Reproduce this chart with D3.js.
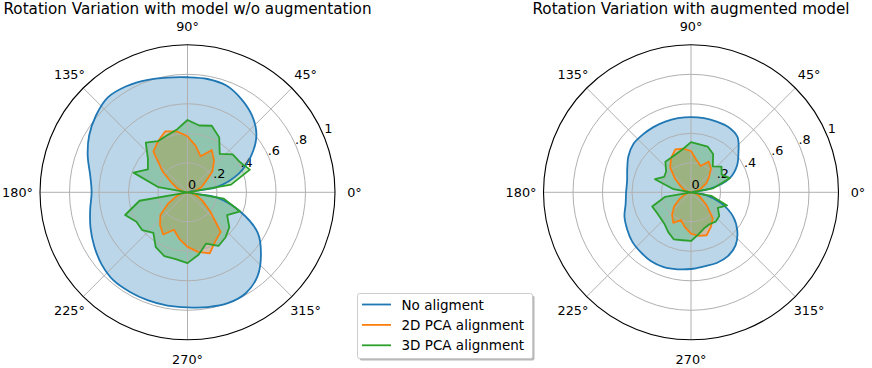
<!DOCTYPE html>
<html>
<head>
<meta charset="utf-8">
<script src="https://cdn.jsdelivr.net/npm/d3@7"></script>
<style>
	body { margin: 0; background: #fff; }
	svg { font-family: "DejaVu Sans", sans-serif; }
</style>
</head>
<body>
<svg id="svg_main" width="872" height="368"></svg>
<script>
// angles in degrees, matplotlib style (0 = east, counter clockwise)
var angles = d3.range(0, 360, 10);

var leftNoAlign = [0.00, 0.20, 0.37, 0.50, 0.61, 0.68, 0.73, 0.77, 0.78, 0.78, 0.79, 0.81, 0.83, 0.84, 0.81, 0.77, 0.72, 0.67,
	0.65, 0.67, 0.70, 0.73, 0.76, 0.78, 0.78, 0.78, 0.78, 0.78, 0.79, 0.80, 0.79, 0.74, 0.65, 0.55, 0.38, 0.20];
var leftPca2d = [0.00, 0.05, 0.10, 0.14, 0.22, 0.28, 0.33, 0.26, 0.32, 0.38, 0.42, 0.44, 0.40, 0.36, 0.22, 0.12, 0.07, 0.03,
	0.00, 0.04, 0.08, 0.15, 0.24, 0.29, 0.33, 0.27, 0.32, 0.37, 0.41, 0.44, 0.38, 0.35, 0.20, 0.12, 0.07, 0.03];
var leftPca3d = [0.00, 0.30, 0.45, 0.41, 0.40, 0.34, 0.43, 0.48, 0.46, 0.49, 0.43, 0.41, 0.40, 0.44, 0.35, 0.31, 0.39, 0.20,
	0.00, 0.33, 0.45, 0.40, 0.40, 0.36, 0.43, 0.46, 0.46, 0.48, 0.43, 0.37, 0.42, 0.40, 0.37, 0.31, 0.38, 0.25];

var rightNoAlign = [0.00, 0.13, 0.28, 0.36, 0.42, 0.49, 0.51, 0.51, 0.51, 0.51, 0.51, 0.51, 0.51, 0.51, 0.51, 0.49, 0.46, 0.44,
	0.44, 0.45, 0.48, 0.50, 0.52, 0.53, 0.54, 0.54, 0.53, 0.52, 0.51, 0.51, 0.50, 0.47, 0.41, 0.33, 0.22, 0.10];
var rightPca2d = [0.00, 0.03, 0.07, 0.12, 0.16, 0.21, 0.24, 0.19, 0.22, 0.28, 0.30, 0.31, 0.27, 0.22, 0.14, 0.08, 0.05, 0.02,
	0.00, 0.02, 0.05, 0.09, 0.15, 0.20, 0.24, 0.20, 0.24, 0.28, 0.30, 0.31, 0.27, 0.23, 0.14, 0.08, 0.05, 0.02];
var rightPca3d = [0.00, 0.15, 0.28, 0.24, 0.27, 0.23, 0.30, 0.33, 0.33, 0.34, 0.30, 0.28, 0.27, 0.27, 0.22, 0.21, 0.26, 0.12,
	0.00, 0.18, 0.28, 0.27, 0.27, 0.28, 0.31, 0.34, 0.33, 0.33, 0.29, 0.26, 0.25, 0.26, 0.25, 0.21, 0.26, 0.14];

var seriesNames = ["No aligment", "2D PCA alignment", "3D PCA alignment"];
var seriesColors = ["#1f77b4", "#ff7f0e", "#2ca02c"];
var titles = ["Rotation Variation with model w/o augmentation", "Rotation Variation with augmented model"];
var rTicks = [0, 0.2, 0.4, 0.6, 0.8, 1];
var rTickLabels = ["0", ".2", ".4", ".6", ".8", "1"];
var thetaTicks = [0, 45, 90, 135, 180, 225, 270, 315];

var panels = [
	{ cx: 187.5, cy: 192.3, title: titles[0], data: [leftNoAlign, leftPca2d, leftPca3d] },
	{ cx: 691, cy: 192.3, title: titles[1], data: [rightNoAlign, rightPca2d, rightPca3d] }
];

var svg = d3.select("#svg_main");
var R = 147.5,
	tickSize = 12.8,
	rad = d => d * Math.PI / 180;

var r = d3.scaleLinear().domain([0, 1]).range([0, R]);

function drawPanel(p) {
	var g = svg.append("g")
		.attr("transform", `translate(${p.cx}, ${p.cy})`);

	g.append("text")
		.attr("x", 0)
		.attr("y", -178)
		.attr("text-anchor", "middle")
		.attr("font-size", "15.2px")
		.text(p.title);

	var line = d3.lineRadial()
		.angle(d => Math.PI / 2 - rad(d[0]))
		.radius(d => r(d[1]));

	// fills go below the grid
	p.data.forEach((vals, i) => {
		let pts = angles.map((a, j) => [a, vals[j]]);
		g.append("path")
			.attr("d", line.curve(i == 0 ? d3.curveCatmullRomClosed : d3.curveLinearClosed)(pts))
			.attr("fill", seriesColors[i])
			.attr("fill-opacity", 0.3)
			.attr("stroke", "none");
	});

	// grid
	let grid = g.append("g").attr("class", "grid");
	for (let t of thetaTicks) {
		grid.append("line")
			.attr("x1", 0).attr("y1", 0)
			.attr("x2", r(1) * Math.cos(rad(t)))
			.attr("y2", -r(1) * Math.sin(rad(t)))
			.attr("stroke", "#b0b0b0")
			.attr("stroke-width", 1);
	}
	for (let v of rTicks.slice(1, -1)) {
		grid.append("circle")
			.attr("r", r(v))
			.attr("fill", "none")
			.attr("stroke", "#b0b0b0")
			.attr("stroke-width", 1);
	}

	// radial tick labels along 22.5 deg
	for (let i = 0; i < rTicks.length; i++) {
		g.append("text")
			.attr("x", r(rTicks[i]) * Math.cos(rad(22.5)) + 4.5)
			.attr("y", -r(rTicks[i]) * Math.sin(rad(22.5)) - 7.5)
			.attr("text-anchor", "middle")
			.attr("dominant-baseline", "central")
			.attr("font-size", `${tickSize}px`)
			.text(rTickLabels[i]);
	}

	// angular tick labels
	for (let t of thetaTicks) {
		let lr = t == 180 ? 170 : (t == 90 ? 166 : 167);
		g.append("text")
			.attr("x", lr * Math.cos(rad(t)))
			.attr("y", -lr * Math.sin(rad(t)))
			.attr("text-anchor", "middle")
			.attr("dominant-baseline", "central")
			.attr("font-size", `${tickSize}px`)
			.text(`${t}°`);
	}

	p.data.forEach((vals, i) => {
		let pts = angles.map((a, j) => [a, vals[j]]);
		g.append("path")
			.attr("d", line.curve(i == 0 ? d3.curveCatmullRomClosed : d3.curveLinearClosed)(pts))
			.attr("fill", "none")
			.attr("stroke", seriesColors[i])
			.attr("stroke-width", 1.8)
			.attr("stroke-linejoin", "round");
	});

	// outer frame
	g.append("circle")
		.attr("r", r(1))
		.attr("fill", "none")
		.attr("stroke", "black")
		.attr("stroke-width", 1.1);
}

for (let p of panels) drawPanel(p);

// legend
var legend = svg.append("g")
	.attr("class", "legend")
	.attr("transform", "translate(357.5, 293.5)");

legend.append("rect")
	.attr("x", 2).attr("y", 2)
	.attr("width", 175).attr("height", 65)
	.attr("rx", 2)
	.attr("fill", "#8a8a8a")
	.attr("fill-opacity", 0.6);
legend.append("rect")
	.attr("width", 175).attr("height", 65)
	.attr("rx", 2)
	.attr("fill", "white")
	.attr("stroke", "#cccccc")
	.attr("stroke-width", 1);

seriesNames.forEach((name, i) => {
	let y = 11 + i * 20.4;
	legend.append("line")
		.attr("x1", 4.5).attr("x2", 33.5)
		.attr("y1", y).attr("y2", y)
		.attr("stroke", seriesColors[i])
		.attr("stroke-width", 1.8);
	legend.append("text")
		.attr("x", 44)
		.attr("y", y)
		.attr("dominant-baseline", "central")
		.attr("font-size", "13.5px")
		.text(name);
});
</script>
</body>
</html>
